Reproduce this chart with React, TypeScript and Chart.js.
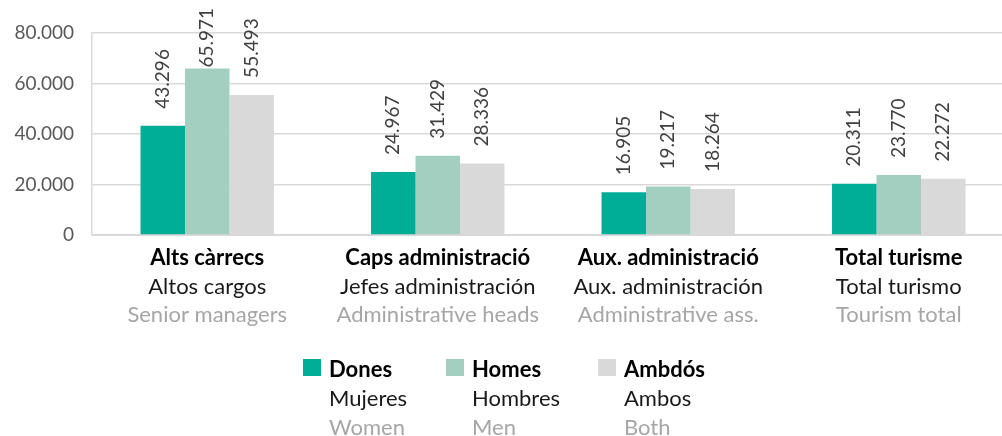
import React, { useEffect, useRef } from 'react';
import { Chart, registerables } from 'chart.js';

Chart.register(...registerables);

const categoriesCa = ['Alts càrrecs', 'Caps administració', 'Aux. administració', 'Total turisme'];
const categoriesEs = ['Altos cargos', 'Jefes administración', 'Aux. administración', 'Total turismo'];
const categoriesEn = ['Senior managers', 'Administrative heads', 'Administrative ass.', 'Tourism total'];

const dones = [43296, 24967, 16905, 20311];
const homes = [65971, 31429, 19217, 23770];
const ambdos = [55493, 28336, 18264, 22272];

const yTicks = [0, 20000, 40000, 60000, 80000];

const seriesCa = ['Dones', 'Homes', 'Ambdós'];
const seriesEs = ['Mujeres', 'Hombres', 'Ambos'];
const seriesEn = ['Women', 'Men', 'Both'];
const seriesColors = ['#00AE98', '#A3CFC0', '#D9D9D9'];

const FONT = 'Lato, "Open Sans", sans-serif';

const fmt = (v: number) => String(Math.round(v)).replace(/\B(?=(\d{3})+(?!\d))/g, '.');

const valueLabels = {
  id: 'valueLabels',
  afterDatasetsDraw(chart: any) {
    const ctx = chart.ctx;
    ctx.save();
    ctx.font = `19px ${FONT}`;
    ctx.fillStyle = '#404040';
    ctx.textBaseline = 'middle';
    ctx.textAlign = 'left';
    chart.data.datasets.forEach((ds: any, di: number) => {
      const meta = chart.getDatasetMeta(di);
      meta.data.forEach((bar: any, i: number) => {
        const text = fmt(ds.data[i]);
        const w = ctx.measureText(text).width;
        let end = bar.y - 17;
        if (end - w < 8) end = 8 + w;
        ctx.save();
        ctx.translate(bar.x, end);
        ctx.rotate(-Math.PI / 2);
        ctx.fillText(text, 0, 0);
        ctx.restore();
      });
    });
    ctx.restore();
  },
};

export default function App() {
  const canvasRef = useRef<HTMLCanvasElement | null>(null);

  useEffect(() => {
    if (!canvasRef.current) return;
    const data = [dones, homes, ambdos];
    const chart = new Chart(canvasRef.current, {
      type: 'bar',
      data: {
        labels: categoriesCa,
        datasets: data.map((d, i) => ({
          label: seriesCa[i],
          data: d,
          backgroundColor: seriesColors[i],
          borderWidth: 0,
          barPercentage: 1,
          categoryPercentage: 0.579,
          xAxisID: 'x',
        })),
      },
      options: {
        animation: false,
        responsive: false,
        maintainAspectRatio: false,
        layout: { padding: { left: 0, right: 0, top: 33, bottom: 107 } },
        plugins: {
          legend: { display: false },
          tooltip: { enabled: false },
        },
        scales: {
          x: {
            type: 'category',
            position: 'bottom',
            weight: 0,
            labels: categoriesCa,
            grid: { display: false, drawTicks: false },
            border: { display: true, color: '#D9D9D9', width: 2 },
            afterFit: (scale: any) => {
              scale.height = 37;
            },
            ticks: {
              padding: 9,
              color: '#000000',
              font: { family: FONT, size: 22, weight: 'bold', lineHeight: '28px' },
              maxRotation: 0,
              autoSkip: false,
            },
          },
          x2: {
            type: 'category',
            position: 'bottom',
            weight: 1,
            labels: categoriesEs,
            grid: { display: false, drawTicks: false },
            border: { display: false },
            ticks: {
              padding: 0,
              color: '#1A1A1A',
              font: { family: FONT, size: 22, lineHeight: '29px' },
              maxRotation: 0,
              autoSkip: false,
            },
          },
          x3: {
            type: 'category',
            position: 'bottom',
            weight: 2,
            labels: categoriesEn,
            grid: { display: false, drawTicks: false },
            border: { display: false },
            ticks: {
              padding: 0,
              color: '#A6A6A6',
              font: { family: FONT, size: 22, lineHeight: '28px' },
              maxRotation: 0,
              autoSkip: false,
            },
          },
          y: {
            min: 0,
            max: 80000,
            afterBuildTicks: (scale: any) => {
              scale.ticks = yTicks.map((v) => ({ value: v }));
            },
            afterFit: (scale: any) => {
              scale.width = 92;
            },
            grid: { color: '#D9D9D9', lineWidth: 1.5, drawTicks: false },
            border: { display: true, color: '#D9D9D9', width: 1.5 },
            ticks: {
              padding: 18,
              color: '#595959',
              font: { family: FONT, size: 19 },
              callback: (v: any) => fmt(Number(v)),
            },
          },
        },
      },
      plugins: [valueLabels],
    });
    return () => chart.destroy();
  }, []);

  const legendX = [303, 446, 598];

  return (
    <div style={{ position: 'absolute', left: 0, top: 0, width: 1002, height: 436, background: '#fff', fontFamily: FONT, overflow: 'hidden' }}>
      <canvas ref={canvasRef} width={1014} height={436} style={{ position: 'absolute', left: 0, top: 0 }} />
      {seriesCa.map((name, i) => (
        <div key={name} style={{ position: 'absolute', left: legendX[i], top: 354, fontSize: 22, lineHeight: '29px' }}>
          <div style={{ position: 'absolute', left: 0, top: 5, width: 18, height: 17, background: seriesColors[i] }} />
          <div style={{ marginLeft: 26, whiteSpace: 'nowrap' }}>
            <div style={{ fontWeight: 'bold', color: '#000' }}>{name}</div>
            <div style={{ color: '#1A1A1A' }}>{seriesEs[i]}</div>
            <div style={{ color: '#A6A6A6' }}>{seriesEn[i]}</div>
          </div>
        </div>
      ))}
    </div>
  );
}
